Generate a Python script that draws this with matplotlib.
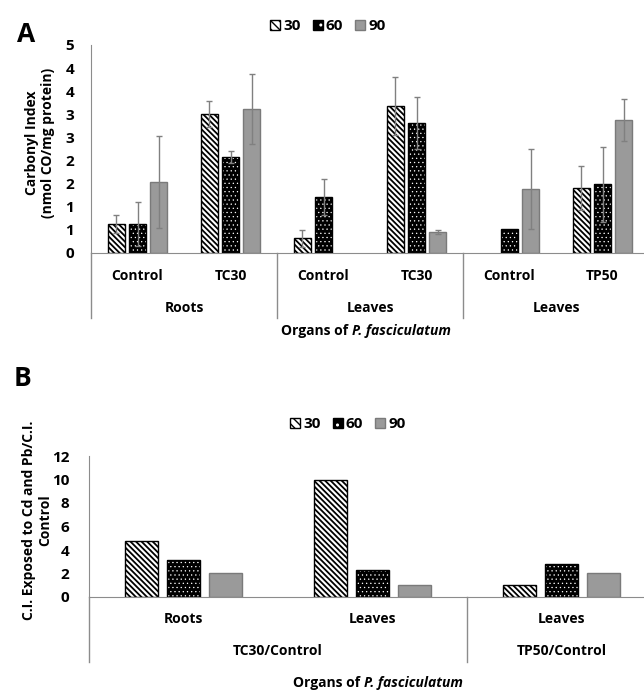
import numpy as np
import matplotlib.pyplot as plt
from matplotlib.patches import Patch
from matplotlib.ticker import FuncFormatter

plt.rcParams['font.family'] = ['Open Sans', 'DejaVu Sans']
plt.rcParams['font.weight'] = 'bold'

# Panel A data
cats_a = ["Control", "TC30", "Control", "TC30", "Control", "TP50"]
groups_a = ["Roots", "Leaves", "Leaves"]
a30 = [0.63, 3.01, 0.32, 3.18, 0.0, 1.40]
a60 = [0.63, 2.08, 1.22, 2.81, 0.52, 1.49]
a90 = [1.54, 3.11, 0.0, 0.45, 1.39, 2.88]
e30 = [0.20, 0.28, 0.18, 0.62, 0.0, 0.48]
e60 = [0.47, 0.13, 0.39, 0.57, 0.0, 0.81]
e90 = [1.00, 0.76, 0.0, 0.04, 0.86, 0.46]

# Panel B data
cats_b = ["Roots", "Leaves", "Leaves"]
groups_b = ["TC30/Control", "TP50/Control"]
b30 = [4.8, 9.96, 1.04]
b60 = [3.17, 2.32, 2.8]
b90 = [2.04, 0.98, 2.04]

series = ["30", "60", "90"]

W, H = 644, 693
fig = plt.figure(figsize=(W / 100, H / 100), dpi=100)
GRAY = '#9a9a9a'
LINE = '#8c8c8c'
FS = 10
STRIPES = '\\\\\\\\\\\\'
DOTS = '....'


def px_axes(l, t, r, b):
    return fig.add_axes([l / W, 1 - b / H, (r - l) / W, (b - t) / H])


def draw_bar(ax, x, h, w, kind):
    if h <= 0:
        return
    if kind == 0:
        with plt.rc_context({'hatch.linewidth': 1.3}):
            ax.bar(x, h, w, facecolor='white', edgecolor='black', hatch=STRIPES, lw=1, zorder=2)
    elif kind == 1:
        with plt.rc_context({'hatch.linewidth': 0.4}):
            ax.bar(x, h, w, facecolor='black', edgecolor='white', hatch=DOTS, lw=0, zorder=2)
        ax.bar(x, h, w, fill=False, edgecolor='black', lw=1, zorder=3)
    else:
        ax.bar(x, h, w, facecolor=GRAY, edgecolor='#7a7a7a', lw=1, zorder=2)


def style_axes(ax, ylim, ext):
    for s in ['top', 'right']:
        ax.spines[s].set_visible(False)
    ax.spines['left'].set_color(LINE)
    ax.spines['bottom'].set_color(LINE)
    ax.spines['bottom'].set_position(('data', 0))
    ax.set_ylim(*ylim)
    ax.set_xticks([])
    ax.tick_params(axis='y', length=0, labelsize=FS + 1)
    ax.plot([0, 0], [0, -ext], transform=ax.transAxes, color=LINE, lw=1, clip_on=False)


def legend_handles():
    with plt.rc_context({'hatch.linewidth': 1.3}):
        h30 = Patch(facecolor='white', edgecolor='black', hatch='\\\\\\\\')
    with plt.rc_context({'hatch.linewidth': 0.4}):
        h60a = Patch(facecolor='black', edgecolor='white', hatch='..', lw=0)
    h60 = (h60a, Patch(fill=False, edgecolor='black'))
    h90 = Patch(facecolor=GRAY, edgecolor='#7a7a7a')
    return [h30, h60, h90]


def organs_label(xc, yc):
    r = fig.canvas.get_renderer()
    t1 = fig.text(0, 1 - yc / H, "Organs of", size=FS, va='center', fontweight='bold')
    t2 = fig.text(0, 1 - yc / H, "P. fasciculatum", size=FS, va='center',
                  fontweight='bold', style='italic')
    w1 = t1.get_window_extent(r).width
    w2 = t2.get_window_extent(r).width
    gap = 4
    x0 = xc - (w1 + w2 + gap) / 2
    t1.set_x(x0 / W)
    t2.set_x((x0 + w1 + gap) / W)


# ---------------- Panel A ----------------
axA = px_axes(91, 45, 649, 253)
xa = np.arange(len(cats_a))
off_a, wa = 0.226, 0.18
for i, (vals, errs) in enumerate([(a30, e30), (a60, e60), (a90, e90)]):
    for x, v, e in zip(xa, vals, errs):
        draw_bar(axA, x + (i - 1) * off_a, v, wa, i)
        if e > 0:
            axA.errorbar(x + (i - 1) * off_a, v, yerr=e, color='#808080', lw=1,
                         capsize=2, capthick=1, zorder=4)
axA.set_xlim(-0.5, len(cats_a) - 0.5)
style_axes(axA, (0, 4.5), (318 - 253) / 208)
axA.set_yticks(np.arange(0, 4.51, 0.5))
axA.yaxis.set_major_formatter(FuncFormatter(lambda v, p: f"{int(np.floor(v + 0.5))}"))
axA.tick_params(axis='y', pad=12)
for x, c in zip(xa, cats_a):
    axA.text(x, -(276 - 253) / 208, c, transform=axA.get_xaxis_transform(),
             ha='center', va='center', size=FS)
for g, gname in enumerate(groups_a):
    axA.text(2 * g + 0.5, -(308 - 253) / 208, gname, transform=axA.get_xaxis_transform(),
             ha='center', va='center', size=FS)
    if g > 0:
        axA.plot([2 * g - 0.5] * 2, [0, -(318 - 253) / 208], transform=axA.get_xaxis_transform(),
                 color=LINE, lw=1, clip_on=False)
axA.set_ylabel("Carbonyl Index\n(nmol CO/mg protein)", size=FS, fontweight='bold', linespacing=1.2)
axA.yaxis.set_label_coords((55 - 91) / 558, (253 - 143) / 208)
fig.legend(legend_handles(), series, loc='center', bbox_to_anchor=(328 / W, 1 - 26 / H),
           ncol=3, frameon=False, fontsize=FS + 1, handlelength=0.65, handleheight=0.65,
           handletextpad=0.2, columnspacing=0.8, borderpad=0)
fig.text(26 / W, 1 - 34 / H, "A", size=19, fontweight='bold', ha='center', va='center')
organs_label(366, 331)

# ---------------- Panel B ----------------
axB = px_axes(89, 456, 656, 597)
xb = np.arange(len(cats_b))
off_b, wb = 0.222, 0.175
for i, vals in enumerate([b30, b60, b90]):
    for x, v in zip(xb, vals):
        draw_bar(axB, x + (i - 1) * off_b, v, wb, i)
axB.set_xlim(-0.5, len(cats_b) - 0.5)
style_axes(axB, (0, 12), (662 - 597) / 141)
axB.set_yticks(np.arange(0, 12.1, 2))
axB.tick_params(axis='y', pad=14)
for x, c in zip(xb, cats_b):
    axB.text(x, -(619 - 597) / 141, c, transform=axB.get_xaxis_transform(),
             ha='center', va='center', size=FS)
axB.text(0.5, -(651 - 597) / 141, groups_b[0], transform=axB.get_xaxis_transform(),
         ha='center', va='center', size=FS)
axB.text(2, -(651 - 597) / 141, groups_b[1], transform=axB.get_xaxis_transform(),
         ha='center', va='center', size=FS)
axB.plot([1.5, 1.5], [0, -(662 - 597) / 141], transform=axB.get_xaxis_transform(),
         color=LINE, lw=1, clip_on=False)
axB.set_ylabel("C.I. Exposed to Cd and Pb/C.I.\nControl", size=FS, fontweight='bold',
               linespacing=1.2)
axB.yaxis.set_label_coords((52 - 89) / 567, (597 - 520) / 141)
fig.legend(legend_handles(), series, loc='center', bbox_to_anchor=(348 / W, 1 - 424 / H),
           ncol=3, frameon=False, fontsize=FS + 1, handlelength=0.65, handleheight=0.65,
           handletextpad=0.2, columnspacing=0.8, borderpad=0)
fig.text(23 / W, 1 - 379 / H, "B", size=19, fontweight='bold', ha='center', va='center')
organs_label(378, 683)

fig.savefig("out.png", dpi=100)
